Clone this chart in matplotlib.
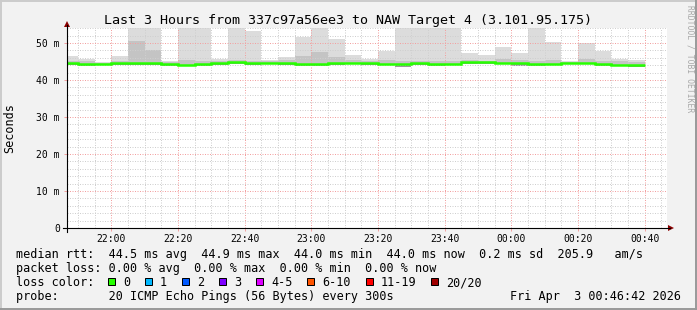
import numpy as np
import matplotlib.pyplot as plt
from matplotlib.patches import Rectangle, Polygon
from matplotlib.lines import Line2D

plt.rcParams['font.family'] = 'DejaVu Sans Mono'

W, H = 697, 310
BACK = '#f2f2f2'

# 5 minute rounds, start of each round in minutes after midnight (21:45 .. 00:35)
bar_start = np.arange(1305, 1480, 5)

# smoke (ms): top of the light smoke, top of the darker smoke, median, bottom
rtt_max = [46.4, 45.8, 44.9, 46.5, 62.0, 60.0, 45.2, 58.0, 57.0, 45.8,
           59.0, 53.3, 45.4, 46.3, 51.7, 60.0, 51.1, 46.7, 45.8, 47.9,
           61.0, 58.0, 60.0, 57.0, 47.4, 46.8, 49.0, 47.4, 59.0, 50.3,
           45.0, 50.1, 47.9, 45.6, 45.4]
rtt_mid = [45.2, 45.0, 44.6, 45.1, 50.6, 48.1, 44.9, 45.3, 45.0, 45.0,
           45.5, 45.2, 45.0, 45.5, 46.5, 47.6, 46.3, 45.3, 45.0, 45.4,
           45.2, 45.0, 45.1, 45.0, 45.3, 45.2, 45.6, 45.3, 45.2, 45.5,
           44.8, 45.6, 45.2, 45.0, 44.9]
rtt_median = [44.6, 44.3, 44.3, 44.5, 44.6, 44.6, 44.4, 44.1, 44.3, 44.5,
              44.9, 44.6, 44.6, 44.5, 44.3, 44.2, 44.5, 44.6, 44.5, 44.4,
              44.3, 44.5, 44.3, 44.4, 44.8, 44.9, 44.7, 44.5, 44.2, 44.3,
              44.6, 44.6, 44.4, 44.1, 44.0]
rtt_min = [44.0, 43.9, 44.0, 44.0, 44.1, 44.1, 43.9, 43.7, 43.9, 44.0,
           44.3, 44.1, 44.2, 44.0, 43.8, 43.8, 44.1, 44.2, 44.1, 44.0,
           43.6, 44.0, 43.9, 44.0, 44.3, 44.4, 44.2, 43.9, 43.9, 44.0,
           44.2, 44.2, 43.9, 43.7, 43.5]

y_ticks = [0, 10, 20, 30, 40, 50]
y_labels = ['0', '10 m', '20 m', '30 m', '40 m', '50 m']

loss_labels = ['0', '1', '2', '3', '4-5', '6-10', '11-19', '20/20']
loss_colors = ['#26ff00', '#00b8ff', '#0059ff', '#7e00ff', '#dd00ff',
               '#ff5500', '#ff0000', '#a00000']

title = 'Last 3 Hours from 337c97a56ee3 to NAW Target 4 (3.101.95.175)'
line_rtt = ('median rtt:  44.5 ms avg  44.9 ms max  44.0 ms min  '
            '44.0 ms now  0.2 ms sd  205.9   am/s')
line_loss = 'packet loss: 0.00 % avg  0.00 % max  0.00 % min  0.00 % now'
line_probe = 'probe:       20 ICMP Echo Pings (56 Bytes) every 300s'
stamp = 'Fri Apr  3 00:46:42 2026'


def fx(px):
    return px / W


def fy(py):
    return 1 - py / H


fig = plt.figure(figsize=(W / 100, H / 100), dpi=100, facecolor=BACK)
ax = fig.add_axes([fx(67), fy(228), 600 / W, 200 / H])
ax.set_facecolor('white')

mx = np.array(rtt_max)
md = np.array(rtt_mid)
med = np.array(rtt_median)
mn = np.array(rtt_min)

ax.bar(bar_start, mx - mn, bottom=mn, width=5, align='edge',
       color='#dcdcdc', lw=0, zorder=1)
ax.bar(bar_start, md - mn, bottom=mn, width=5, align='edge',
       color='#c4c4c4', lw=0, zorder=1.1)
ax.bar(bar_start, med - mn, bottom=mn, width=5, align='edge',
       color='#9a9a9a', lw=0, zorder=1.2)
ax.stairs(med, np.append(bar_start, bar_start[-1] + 5), baseline=None,
          color='#26ff00', lw=1.8, zorder=4)

ax.set_xlim(1306.7, 1486.7)
ax.set_ylim(0, 54.05)

xt = np.arange(1320, 1481, 20)
ax.set_xticks(xt)
ax.set_xticklabels([f'{(m // 60) % 24:02d}:{m % 60:02d}' for m in xt])
ax.set_xticks(np.arange(1310, 1487, 5), minor=True)
ax.set_yticks(y_ticks)
ax.set_yticklabels(y_labels)
ax.set_yticks(np.arange(0, 54.1, 2), minor=True)

ax.set_axisbelow(False)
ax.grid(which='major', color='#f2a0a0', ls=(0, (1, 1.5)), lw=0.72)
ax.grid(which='minor', color='#cfcfcf', ls=(0, (1, 1.5)), lw=0.72)

for s in ax.spines.values():
    s.set_visible(False)
ax.tick_params(which='major', length=2.2, width=0.72, direction='out',
               labelsize=7, labelcolor='black', color='#f2a0a0')
ax.tick_params(which='minor', length=0)
ax.tick_params(axis='y', pad=3.0)
ax.tick_params(axis='x', pad=2.2)

# axes with arrows
fig.add_artist(Line2D([fx(63), fx(670)], [fy(228), fy(228)], color='black',
                      lw=0.8, transform=fig.transFigure))
fig.add_artist(Line2D([fx(67), fx(67)], [fy(231.5), fy(25)], color='black',
                      lw=0.8, transform=fig.transFigure))
fig.add_artist(Polygon([[fx(668), fy(225)], [fx(674), fy(228)], [fx(668), fy(231)]],
                       closed=True, color='#8b0000', lw=0, transform=fig.transFigure))
fig.add_artist(Polygon([[fx(64), fy(27)], [fx(67), fy(21)], [fx(70), fy(27)]],
                       closed=True, color='#8b0000', lw=0, transform=fig.transFigure))

# texts
fig.text(fx(348.5), fy(24), title, ha='center', va='baseline', fontsize=9.6)
fig.text(fx(10), fy(128), 'Seconds', rotation=90, ha='center', va='center',
         fontsize=8.5)
fig.text(fx(690), fy(59), 'RRDTOOL / TOBI OETIKER', rotation=270, ha='center',
         va='center', fontsize=5.8, color='#a8a8a8')

fig.text(fx(16), fy(258), line_rtt, va='baseline', fontsize=8.5)
fig.text(fx(16), fy(272), line_loss, va='baseline', fontsize=8.5)
fig.text(fx(16), fy(286), 'loss color:', va='baseline', fontsize=8.5)
fig.text(fx(16), fy(300), line_probe, va='baseline', fontsize=8.5)
fig.text(fx(681), fy(300), stamp, ha='right', va='baseline', fontsize=8.5)

x = 108.0
for lab, col in zip(loss_labels, loss_colors):
    fig.add_artist(Rectangle((fx(x), fy(285)), 7 / W, 7 / H, facecolor=col,
                             edgecolor='black', lw=0.72, transform=fig.transFigure))
    fig.text(fx(x + 15), fy(286), lab, va='baseline', fontsize=8.5)
    x += 15 + len(lab) * 7.1 + 14.9

# frame
fig.add_artist(Line2D([0, 1], [fy(0.7), fy(0.7)], color='#cbcbcb', lw=1.4,
                      transform=fig.transFigure))
fig.add_artist(Line2D([fx(0.7), fx(0.7)], [0, 1], color='#cbcbcb', lw=1.4,
                      transform=fig.transFigure))
fig.add_artist(Line2D([0, 1], [fy(309.3), fy(309.3)], color='#999999', lw=1.4,
                      transform=fig.transFigure))
fig.add_artist(Line2D([fx(696.3), fx(696.3)], [0, 1], color='#999999', lw=1.4,
                      transform=fig.transFigure))

fig.savefig('out.png', dpi=100, facecolor=fig.get_facecolor())
